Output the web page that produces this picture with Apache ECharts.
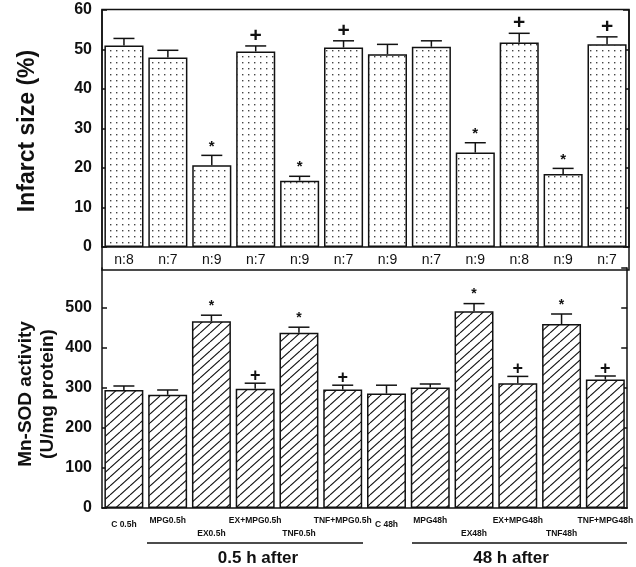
<!DOCTYPE html>
<html><head><meta charset="utf-8">
<script src="https://cdn.jsdelivr.net/npm/echarts@6/dist/echarts.min.js"></script>
<style>html,body{margin:0;padding:0;background:#fff}#c{width:636px;height:567px}</style>
</head><body><div id="c"></div>
<script>
// ---- data ----
const categories = ['C 0.5h','MPG0.5h','EX0.5h','EX+MPG0.5h','TNF0.5h','TNF+MPG0.5h','C 48h','MPG48h','EX48h','EX+MPG48h','TNF48h','TNF+MPG48h'];
const nLabels = ['n:8','n:7','n:9','n:7','n:9','n:7','n:9','n:7','n:9','n:8','n:9','n:7'];
const infarctSize = [51.0, 48.0, 20.7, 49.5, 16.8, 50.5, 48.8, 50.7, 23.9, 51.8, 18.5, 51.3];
const infarctErr  = [1.8, 1.8, 2.5, 1.4, 1.1, 1.7, 2.5, 1.5, 2.5, 2.3, 1.4, 1.9];
const sodActivity = [295, 283, 467, 298, 438, 296, 286, 301, 492, 312, 460, 321];
const sodErr      = [10, 12, 15, 14, 14, 11, 21, 9, 19, 17, 25, 9];
const infarctMarks = ['', '', '*', '+', '*', '+', '', '', '*', '+', '*', '+'];
const sodMarks     = ['', '', '*', '+', '*', '+', '', '', '*', '+', '*', '+'];
const infarctTicks = [0, 10, 20, 30, 40, 50, 60];
const sodTicks = [0, 100, 200, 300, 400, 500, 600];
const groupLabels = ['0.5 h after', '48 h after'];
const titles = ['Infarct size (%)', 'Mn-SOD activity', '(U/mg protein)'];

// ---- patterns ----
const FONT = "'Liberation Sans', Arial, Helvetica, sans-serif";
function dotPattern() {
  const c = document.createElement('canvas'); c.width = 6; c.height = 6;
  const g = c.getContext('2d');
  g.fillStyle = '#fff'; g.fillRect(0, 0, 6, 6);
  g.fillStyle = '#444'; g.fillRect(2, 2, 1.4, 1.4);
  return c;
}
function hatchPattern() {
  const w = 10, h = 9;
  const c = document.createElement('canvas'); c.width = w; c.height = h;
  const g = c.getContext('2d');
  g.fillStyle = '#fff'; g.fillRect(0, 0, w, h);
  g.strokeStyle = '#111'; g.lineWidth = 1.1;
  [-w, 0, w].forEach(o => { g.beginPath(); g.moveTo(o, h); g.lineTo(o + w, 0); g.stroke(); });
  return c;
}

function errRender(marks, plusGap, starGap, plusSize, starSize) {
  return function (params, api) {
    const i = api.value(0), v = api.value(1), e = api.value(2);
    const base = api.coord([i, v]);
    const top = api.coord([i, v + e]);
    const ls = { stroke: '#111', lineWidth: 1.5 };
    const ch = [
      { type: 'line', shape: { x1: top[0], y1: base[1], x2: top[0], y2: top[1] }, style: ls },
      { type: 'line', shape: { x1: top[0] - 10.5, y1: top[1], x2: top[0] + 10.5, y2: top[1] }, style: ls }
    ];
    const m = marks[params.dataIndex];
    if (m) {
      const plus = m === '+';
      ch.push({ type: 'text', x: top[0], y: top[1] - (plus ? plusGap : starGap),
        style: { text: m, fill: '#111', align: 'center', verticalAlign: 'middle',
          font: 'bold ' + (plus ? plusSize : starSize) + 'px ' + FONT } });
    }
    return { type: 'group', children: ch };
  };
}

const chart = echarts.init(document.getElementById('c'), null, { renderer: 'canvas' });
const lineStyle = { color: '#111', width: 1.5 };
const yLabel = { fontFamily: FONT, fontWeight: 'bold', fontSize: 16, color: '#111', margin: 10 };

function catAxis(grid, show, margin, filter) {
  return {
    type: 'category', gridIndex: grid, data: categories, position: 'bottom', offset: 0,
    axisLine: { show: show, lineStyle: lineStyle }, axisTick: { show: false },
    axisLabel: { interval: 0, margin: margin, fontFamily: FONT, fontWeight: 'bold', fontSize: 8.5, color: '#111',
      formatter: (v, i) => filter(i) ? v : '' }
  };
}

const option = {
  backgroundColor: '#fff',
  animation: false,
  grid: [
    { left: 102, right: 7, top: 10, height: 237 },
    { left: 102, right: 7, top: 268, height: 240 }
  ],
  xAxis: [
    { type: 'category', gridIndex: 0, data: categories, position: 'bottom',
      axisLine: { lineStyle: lineStyle }, axisTick: { show: false },
      axisLabel: { interval: 0, margin: 6, fontFamily: FONT, fontSize: 14, color: '#111',
        formatter: (v, i) => nLabels[i] } },
    catAxis(1, true, 8, i => i % 2 === 1),
    catAxis(1, false, 21, i => i % 2 === 0 && i % 6 !== 0),
    catAxis(1, false, 12, i => i % 6 === 0)
  ],
  yAxis: [
    { type: 'value', gridIndex: 0, position: 'left', min: infarctTicks[0], max: infarctTicks[infarctTicks.length - 1],
      interval: infarctTicks[1] - infarctTicks[0],
      axisLine: { show: true, lineStyle: lineStyle }, axisTick: { show: true, inside: true, length: 5, lineStyle: lineStyle },
      splitLine: { show: false }, axisLabel: yLabel },
    { type: 'value', gridIndex: 0, position: 'right', min: infarctTicks[0], max: infarctTicks[infarctTicks.length - 1],
      interval: infarctTicks[1] - infarctTicks[0],
      axisLine: { show: true, lineStyle: lineStyle }, axisTick: { show: true, inside: true, length: 6, lineStyle: lineStyle },
      splitLine: { show: false }, axisLabel: { show: false } },
    { type: 'value', gridIndex: 1, position: 'left', min: sodTicks[0], max: sodTicks[sodTicks.length - 1],
      interval: sodTicks[1] - sodTicks[0],
      axisLine: { show: true, lineStyle: lineStyle }, axisTick: { show: true, inside: true, length: 5, lineStyle: lineStyle },
      splitLine: { show: false }, axisLabel: Object.assign({ showMaxLabel: false }, yLabel) },
    { type: 'value', gridIndex: 1, position: 'right', min: sodTicks[0], max: sodTicks[sodTicks.length - 1],
      interval: sodTicks[1] - sodTicks[0],
      axisLine: { show: true, lineStyle: lineStyle }, axisTick: { show: true, inside: true, length: 6, lineStyle: lineStyle },
      splitLine: { show: false }, axisLabel: { show: false } }
  ],
  series: [
    { type: 'bar', xAxisIndex: 0, yAxisIndex: 0, data: infarctSize, barWidth: '89%',
      itemStyle: { color: { image: dotPattern(), repeat: 'repeat' }, borderColor: '#111', borderWidth: 1.5 } },
    { type: 'custom', xAxisIndex: 0, yAxisIndex: 0, z: 5, clip: false,
      data: infarctSize.map((v, i) => [i, v, infarctErr[i]]),
      encode: { x: 0, y: 1 }, renderItem: errRender(infarctMarks, 10, 9, 21, 15) },
    { type: 'bar', xAxisIndex: 1, yAxisIndex: 2, data: sodActivity, barWidth: '89%',
      itemStyle: { color: { image: hatchPattern(), repeat: 'repeat' }, borderColor: '#111', borderWidth: 1.5 } },
    { type: 'custom', xAxisIndex: 1, yAxisIndex: 2, z: 5, clip: false,
      data: sodActivity.map((v, i) => [i, v, sodErr[i]]),
      encode: { x: 0, y: 1 }, renderItem: errRender(sodMarks, 7, 9, 18, 14) }
  ],
  graphic: [
    { type: 'rect', shape: { x: 102, y: 9.5, width: 527, height: 260.5 }, z: 10,
      style: { fill: 'none', stroke: '#111', lineWidth: 1.5 } },
    { type: 'text', x: 28, y: 131, rotation: Math.PI / 2, z: 10,
      style: { text: titles[0], font: 'bold 23px ' + FONT, fill: '#111', align: 'center', verticalAlign: 'middle' } },
    { type: 'text', x: 26, y: 394, rotation: Math.PI / 2, z: 10,
      style: { text: titles[1], font: 'bold 19px ' + FONT, fill: '#111', align: 'center', verticalAlign: 'middle' } },
    { type: 'text', x: 48, y: 394, rotation: Math.PI / 2, z: 10,
      style: { text: titles[2], font: 'bold 19px ' + FONT, fill: '#111', align: 'center', verticalAlign: 'middle' } },
    { type: 'line', shape: { x1: 147, y1: 543, x2: 363, y2: 543 }, style: { stroke: '#111', lineWidth: 1.3 } },
    { type: 'line', shape: { x1: 412, y1: 543, x2: 627, y2: 543 }, style: { stroke: '#111', lineWidth: 1.3 } },
    { type: 'text', x: 258, y: 558, style: { text: groupLabels[0], font: 'bold 17px ' + FONT, fill: '#111', align: 'center', verticalAlign: 'middle' } },
    { type: 'text', x: 511, y: 558, style: { text: groupLabels[1], font: 'bold 17px ' + FONT, fill: '#111', align: 'center', verticalAlign: 'middle' } }
  ]
};
chart.setOption(option);
</script>
</body></html>
